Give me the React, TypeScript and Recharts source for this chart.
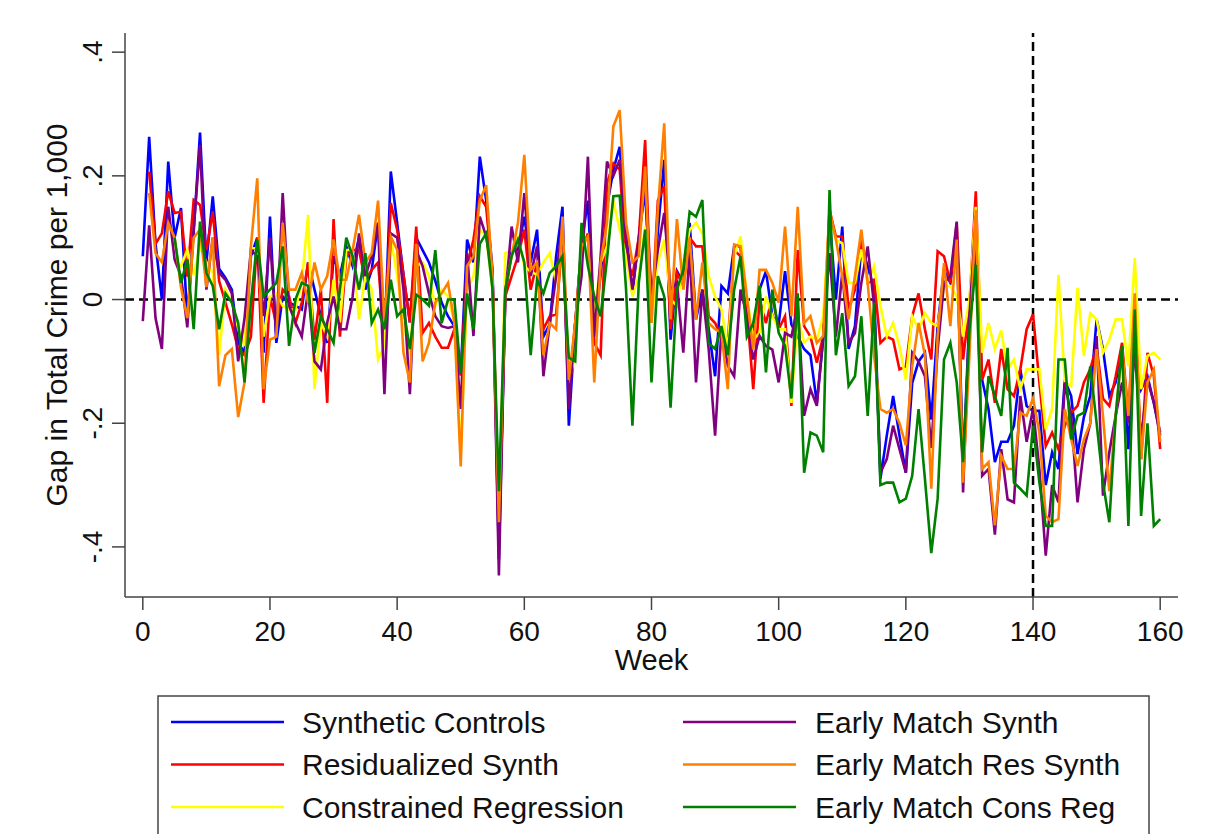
import React from 'react'
import { LineChart, Line, XAxis, YAxis, ReferenceLine } from 'recharts'

// gap in total crime per 1,000, by week (0..160); null = series not started yet
const syntheticControls = [
  0.07, 0.263, 0.09, 0.0, 0.223, 0.1, 0.148, -0.03, 0.11, 0.27,
  0.06, 0.167, 0.05, 0.035, 0.016, -0.07, -0.086, 0.07, 0.1, -0.086,
  0.134, -0.07, 0.005, -0.005, -0.01, -0.016, 0.06, 0.016, -0.027, -0.07,
  0.07, 0.038, 0.086, 0.054, 0.1, 0.016, 0.048, 0.124, -0.075, 0.207,
  0.124, 0.04, -0.037, 0.1, 0.08, 0.06, 0.03, -0.005, -0.027, -0.043,
  -0.12, 0.097, 0.06, 0.231, 0.16, 0.048, -0.42, 0.005, 0.08, 0.08,
  0.134, 0.06, 0.113, -0.06, -0.04, 0.07, 0.15, -0.204, -0.04, 0.09,
  0.16, -0.05, 0.04, 0.15, 0.21, 0.247, 0.11, 0.01, 0.1, 0.177,
  -0.032, 0.11, 0.226, -0.065, 0.046, 0.027, 0.124, -0.032, 0.016, -0.048,
  -0.124, 0.022, 0.01, 0.086, 0.086, -0.038, -0.048, 0.016, 0.046, -0.027,
  -0.04, 0.046, -0.04, -0.06, -0.08, -0.09, -0.167, -0.065, 0.134, 0.0,
  0.118, -0.08, -0.043, 0.086, 0.054, 0.016, -0.29, -0.22, -0.156, -0.22,
  -0.28, -0.135, -0.1, -0.086, -0.194, -0.043, 0.048, 0.027, 0.102, -0.27,
  -0.027, 0.08, -0.13, -0.177, -0.263, -0.23, -0.23, -0.204, -0.113, -0.172,
  -0.18, -0.18, -0.3, -0.247, -0.274, -0.13, -0.156, -0.25, -0.19, -0.156,
  -0.032, -0.08, -0.156, -0.134, -0.075, -0.242, -0.06, -0.145, -0.124, -0.167, -0.22,
]

const residualizedSynth = [
  null, 0.207, 0.09, 0.107, 0.175, 0.14, 0.142, 0.037, 0.161, 0.153,
  0.08, 0.142, 0.03, -0.005, -0.04, -0.08, -0.09, -0.06, 0.1, -0.167,
  0.005, -0.04, 0.016, 0.005, -0.038, -0.005, 0.06, -0.065, 0.016, -0.167,
  0.13, -0.06, 0.07, 0.08, 0.08, 0.03, 0.048, 0.06, -0.07, 0.156,
  0.113, 0.04, -0.037, 0.118, -0.054, -0.038, -0.06, -0.078, -0.078, -0.048,
  -0.123, 0.054, 0.097, 0.167, 0.15, 0.038, -0.4, 0.005, 0.038, 0.07,
  0.113, 0.016, 0.06, -0.048, -0.027, -0.024, 0.097, -0.15, -0.038, 0.08,
  0.107, -0.07, -0.09, 0.188, 0.22, 0.21, 0.07, 0.038, 0.1, 0.258,
  -0.032, 0.16, 0.183, -0.048, 0.043, 0.022, 0.1, 0.086, 0.086, -0.027,
  -0.038, -0.06, -0.07, 0.08, 0.07, -0.016, -0.145, 0.0, -0.038, 0.005,
  -0.048, -0.027, -0.172, 0.08, -0.043, -0.06, -0.102, -0.06, 0.145, 0.102,
  0.102, -0.016, 0.016, 0.097, 0.027, 0.032, -0.07, -0.06, -0.065, -0.113,
  -0.108, -0.027, 0.01, -0.048, -0.097, 0.078, 0.07, 0.027, 0.124, -0.097,
  -0.01, 0.175, -0.13, -0.097, -0.167, -0.08, -0.145, -0.156, -0.113, -0.048,
  -0.024, -0.134, -0.237, -0.215, -0.242, -0.204, -0.183, -0.172, -0.134, -0.113,
  -0.075, -0.16, -0.172, -0.124, -0.07, -0.188, 0.005, -0.258, -0.086, -0.124, -0.242,
]

const constrainedRegression = [
  null, null, null, null, null, 0.06, 0.054, 0.08, 0.04, 0.086,
  0.06, 0.043, -0.09, 0.016, -0.005, -0.048, -0.075, 0.083, 0.083, -0.06,
  0.005, 0.01, -0.01, -0.016, -0.016, 0.027, 0.137, -0.145, -0.037, -0.06,
  0.032, -0.037, 0.08, 0.08, -0.032, 0.038, 0.016, -0.097, -0.075, 0.1,
  0.038, -0.037, -0.09, 0.054, 0.06, 0.038, -0.01, 0.016, 0.005, -0.037,
  -0.247, 0.016, 0.038, 0.113, 0.102, 0.016, -0.38, 0.075, 0.08, 0.1,
  0.054, 0.045, 0.04, 0.06, 0.075, 0.027, 0.097, -0.134, -0.09, 0.097,
  0.097, -0.027, 0.06, 0.086, 0.16, 0.113, 0.07, 0.005, 0.038, 0.118,
  -0.038, 0.06, 0.097, 0.0, -0.01, 0.06, 0.113, 0.124, 0.107, 0.038,
  0.005, -0.016, -0.081, 0.07, 0.102, 0.005, -0.065, -0.054, 0.005, -0.027,
  -0.048, -0.048, -0.167, -0.027, -0.07, -0.06, -0.065, -0.027, 0.134, 0.097,
  0.091, 0.027, 0.027, 0.081, 0.027, 0.054, -0.01, -0.06, -0.038, -0.075,
  -0.13, -0.027, -0.048, -0.022, -0.038, -0.043, 0.022, 0.022, 0.005, -0.06,
  0.0, 0.15, -0.086, -0.038, -0.08, -0.05, -0.113, -0.097, -0.145, -0.113,
  -0.113, -0.113, -0.21, -0.177, 0.04, -0.134, -0.14, 0.019, -0.091, -0.022,
  -0.032, -0.086, -0.065, -0.032, -0.032, -0.108, 0.067, -0.145, -0.091, -0.086, -0.097,
]

const earlyMatchSynth = [
  -0.035, 0.12, -0.03, -0.08, 0.15, 0.065, 0.038, -0.045, 0.113, 0.25,
  0.016, 0.1, 0.043, 0.032, 0.01, -0.1, -0.03, 0.08, 0.07, -0.027,
  0.1, -0.06, 0.172, -0.01, -0.037, -0.06, 0.016, -0.1, -0.113, -0.037,
  0.005, -0.048, -0.048, 0.005, 0.107, 0.038, 0.07, 0.124, -0.153, 0.107,
  0.1, 0.016, -0.153, 0.08, 0.054, 0.01, -0.027, -0.043, -0.046, -0.043,
  -0.177, 0.075, -0.059, 0.134, 0.102, 0.038, -0.446, 0.005, 0.118, 0.06,
  0.172, 0.038, 0.086, -0.124, -0.038, 0.038, 0.124, -0.177, -0.038, 0.038,
  0.231, -0.06, 0.07, 0.223, 0.2, 0.226, 0.097, 0.016, 0.097, 0.194,
  0.005, 0.08, 0.14, 0.016, 0.027, -0.086, 0.08, -0.134, 0.016, -0.081,
  -0.22, -0.048, -0.107, -0.124, 0.016, -0.027, -0.097, -0.059, -0.075, -0.081,
  -0.134, -0.054, -0.06, -0.01, -0.188, -0.145, -0.172, -0.06, 0.075, -0.06,
  0.043, -0.07, -0.054, 0.027, 0.086, -0.01, -0.28, -0.258, -0.204, -0.242,
  -0.28, -0.086, -0.1, -0.124, -0.24, -0.081, 0.027, 0.038, 0.126, -0.312,
  -0.027, 0.134, -0.285, -0.274, -0.38, -0.242, -0.323, -0.328, -0.156, -0.23,
  -0.177, -0.274, -0.414, -0.3, -0.328, -0.134, -0.188, -0.328, -0.242, -0.2,
  -0.059, -0.317, -0.247, -0.188, -0.134, -0.2, -0.081, -0.226, -0.129, -0.167, -0.215,
]

const earlyMatchResSynth = [
  null, 0.172, 0.075, 0.06, 0.124, 0.1, 0.02, -0.03, 0.1, 0.113,
  0.02, 0.1, -0.14, -0.09, -0.08, -0.19, -0.134, 0.086, 0.196, -0.145,
  -0.065, -0.06, 0.124, 0.016, 0.016, 0.043, -0.005, 0.06, 0.016, 0.038,
  0.097, 0.032, 0.032, 0.08, 0.137, 0.06, 0.075, 0.16, -0.037, 0.102,
  0.08, -0.086, -0.134, 0.09, -0.1, -0.07, -0.005, 0.01, 0.027, -0.037,
  -0.27, 0.054, 0.07, 0.16, 0.185, 0.038, -0.36, 0.016, 0.07, 0.124,
  0.234, 0.048, 0.06, -0.09, -0.038, -0.048, 0.134, -0.13, -0.038, 0.086,
  0.102, -0.134, 0.06, 0.124, 0.28, 0.306, 0.124, 0.06, 0.07, 0.215,
  -0.038, 0.145, 0.285, -0.032, 0.13, 0.016, 0.1, -0.032, 0.06, -0.038,
  -0.048, -0.054, -0.145, 0.089, 0.086, 0.005, -0.081, 0.048, 0.048, 0.027,
  -0.005, 0.118, -0.027, 0.15, -0.038, -0.027, -0.07, -0.059, 0.145, 0.097,
  0.038, -0.032, 0.038, 0.113, 0.027, -0.09, -0.177, -0.183, -0.177, -0.2,
  -0.236, -0.108, -0.038, -0.09, -0.306, -0.059, 0.059, -0.043, 0.097, -0.296,
  -0.09, 0.145, -0.274, -0.263, -0.365, -0.253, -0.274, -0.274, -0.183, -0.188,
  -0.16, -0.215, -0.35, -0.36, -0.355, -0.177, -0.226, -0.269, -0.226, -0.2,
  -0.08, -0.188, -0.31, -0.188, -0.08, -0.188, 0.01, -0.258, -0.134, -0.113, -0.23,
]

const earlyMatchConsReg = [
  null, null, null, null, null, 0.1, 0.027, 0.065, -0.048, 0.126,
  0.043, 0.022, -0.048, 0.01, -0.005, -0.038, -0.134, -0.005, 0.097, 0.005,
  0.016, 0.027, 0.086, -0.075, 0.0, 0.027, 0.022, -0.086, -0.027, -0.048,
  -0.07, 0.016, 0.1, 0.07, 0.016, 0.075, -0.038, -0.016, -0.048, 0.032,
  -0.027, -0.016, -0.08, 0.008, 0.0, -0.01, 0.08, -0.038, 0.0, 0.0,
  -0.12, 0.01, -0.048, 0.09, 0.107, 0.016, -0.31, 0.016, 0.07, 0.097,
  0.06, -0.09, 0.032, 0.01, 0.043, 0.054, 0.07, -0.094, -0.1, 0.124,
  0.054, 0.005, -0.027, 0.065, 0.167, 0.168, 0.016, -0.204, 0.027, 0.113,
  -0.134, 0.038, 0.005, -0.175, 0.016, 0.048, 0.142, 0.134, 0.161, -0.07,
  -0.08, -0.043, -0.09, 0.016, 0.07, -0.06, -0.038, 0.022, -0.118, 0.016,
  -0.054, -0.075, -0.16, 0.01, -0.28, -0.215, -0.22, -0.247, 0.177, -0.09,
  -0.022, -0.14, -0.124, -0.027, -0.188, -0.005, -0.3, -0.296, -0.296, -0.328,
  -0.322, -0.285, -0.177, -0.29, -0.41, -0.322, -0.097, -0.07, -0.134, -0.263,
  -0.05, 0.056, -0.247, -0.124, -0.156, -0.188, -0.078, -0.296, -0.306, -0.317,
  -0.204, -0.296, -0.366, -0.366, -0.097, -0.097, -0.226, -0.188, -0.183, -0.108,
  -0.2, -0.296, -0.36, -0.188, -0.075, -0.366, -0.016, -0.35, -0.2, -0.366, -0.355,
]

const xTicks = [0, 20, 40, 60, 80, 100, 120, 140, 160]
const yTicks = [-0.4, -0.2, 0, 0.2, 0.4]
const yTickLabels = ['-.4', '-.2', '0', '.2', '.4']
const treatmentWeek = 140

const series = [
  { key: 'sc', name: 'Synthetic Controls', color: '#0000ff', values: syntheticControls },
  { key: 'rs', name: 'Residualized Synth', color: '#ff0000', values: residualizedSynth },
  { key: 'cr', name: 'Constrained Regression', color: '#ffff00', values: constrainedRegression },
  { key: 'ems', name: 'Early Match Synth', color: '#800080', values: earlyMatchSynth },
  { key: 'emrs', name: 'Early Match Res Synth', color: '#ff8000', values: earlyMatchResSynth },
  { key: 'emcr', name: 'Early Match Cons Reg', color: '#008000', values: earlyMatchConsReg },
]

const data = syntheticControls.map((_, week) => {
  const row: Record<string, number | null> = { week }
  series.forEach(s => { row[s.key] = s.values[week] })
  return row
})

const font = '"Liberation Sans", Arial, sans-serif'
const axisColor = '#444'

const XTick = ({ x, payload }: any) => (
  <text x={x} y={597 + 44} textAnchor="middle" fontSize={28} fill="#111" fontFamily={font}>
    {payload.value}
  </text>
)

const YTick = ({ y, payload }: any) => {
  const i = yTicks.indexOf(payload.value)
  return (
    <text x={102} y={y} transform={`rotate(-90, 102, ${y})`} textAnchor="middle" fontSize={28} fill="#111" fontFamily={font}>
      {yTickLabels[i]}
    </text>
  )
}

const Legend = () => (
  <svg width={995} height={140} style={{ position: 'absolute', left: 157, top: 695 }}>
    <rect x={1} y={1} width={991} height={200} fill="#fff" stroke={axisColor} strokeWidth={1.5} />
    {series.map((s, i) => {
      const col = Math.floor(i / 3)
      const row = i % 3
      const lx = col === 0 ? 14 : 526
      const tx = col === 0 ? 145 : 658
      const ly = 27 + row * 42.5
      return (
        <g key={s.key}>
          <line x1={lx} x2={lx + 113} y1={ly} y2={ly} stroke={s.color} strokeWidth={2.5} />
          <text x={tx} y={ly + 10.5} fontSize={30} fill="#111" fontFamily={font}>{s.name}</text>
        </g>
      )
    })}
  </svg>
)

export default function App() {
  return (
    <div style={{ position: 'absolute', left: 0, top: 0, width: 1208, height: 834, background: '#fff', overflow: 'hidden' }}>
      <LineChart width={1208} height={700} data={data} margin={{ top: 33, right: 30, bottom: 0, left: 0 }}>
        <XAxis
          dataKey="week"
          type="number"
          domain={[-2.8, 162.8]}
          ticks={xTicks}
          height={103}
          stroke={axisColor}
          axisLine={{ stroke: axisColor, strokeWidth: 1.5 }}
          tickLine={{ stroke: axisColor, strokeWidth: 1.5 }}
          tickSize={13}
          tick={<XTick />}
          interval={0}
          label={({ viewBox }: any) => (
            <text x={viewBox.x + viewBox.width / 2} y={597 + 73} textAnchor="middle" fontSize={29} fill="#111" fontFamily={font}>
              Week
            </text>
          )}
        />
        <YAxis
          type="number"
          domain={[-0.481, 0.431]}
          ticks={yTicks}
          width={125}
          allowDataOverflow
          axisLine={{ stroke: axisColor, strokeWidth: 1.5 }}
          tickLine={{ stroke: axisColor, strokeWidth: 1.5 }}
          tickSize={13}
          tick={<YTick />}
          interval={0}
          label={({ viewBox }: any) => {
            const cy = viewBox.y + viewBox.height / 2
            return (
              <text x={67} y={cy} transform={`rotate(-90, 67, ${cy})`} textAnchor="middle" fontSize={30} fill="#111" fontFamily={font}>
                Gap in Total Crime per 1,000
              </text>
            )
          }}
        />
        <ReferenceLine y={0} stroke="#000" strokeWidth={2.5} strokeDasharray="9 5" />
        <ReferenceLine x={treatmentWeek} stroke="#000" strokeWidth={2.5} strokeDasharray="9 5" />
        {series.map(s => (
          <Line
            key={s.key}
            type="linear"
            dataKey={s.key}
            name={s.name}
            stroke={s.color}
            strokeWidth={2.6}
            dot={false}
            activeDot={false}
            connectNulls={false}
            isAnimationActive={false}
          />
        ))}
      </LineChart>
      <Legend />
    </div>
  )
}
